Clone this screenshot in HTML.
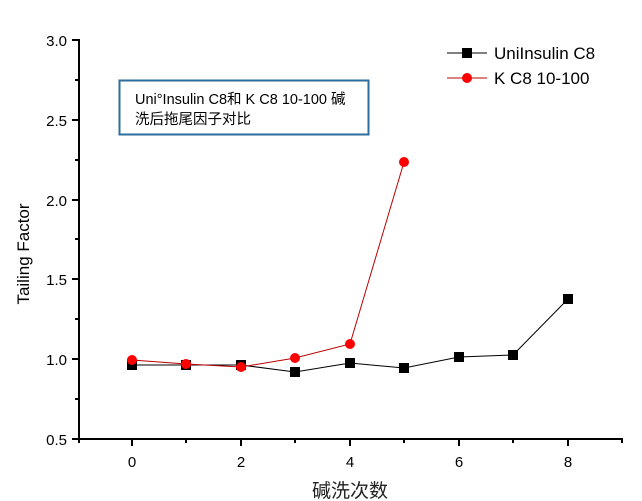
<!DOCTYPE html><html><head><meta charset="utf-8"><style>body{margin:0;background:#fff}svg{display:block}text{font-family:"Liberation Sans","Noto Sans CJK SC",sans-serif}</style></head><body>
<svg width="642" height="501" viewBox="0 0 642 501">
<rect width="642" height="501" fill="#fff"/>
<g stroke="#000" stroke-width="2" fill="none">
<line x1="79" y1="39" x2="79" y2="440"/>
<line x1="78" y1="439" x2="623" y2="439"/>
<path d="M72 40H79M72 120H79M72 200H79M72 279H79M72 359H79M72 439H79M75 80H79M75 160H79M75 239H79M75 319H79M75 399H79"/>
<path d="M132 439V446M241 439V446M350 439V446M459 439V446M568 439V446M79 439V443M186 439V443M295 439V443M404 439V443M513 439V443M622 439V443"/>
</g>
<g font-size="15" fill="#000" text-anchor="end">
<text x="67" y="46">3.0</text><text x="67" y="126">2.5</text><text x="67" y="206">2.0</text><text x="67" y="285">1.5</text><text x="67" y="365">1.0</text><text x="67" y="445">0.5</text>
</g>
<g font-size="15" fill="#000" text-anchor="middle">
<text x="132" y="467">0</text><text x="241" y="467">2</text><text x="350" y="467">4</text><text x="459" y="467">6</text><text x="568" y="467">8</text>
</g>
<text x="350" y="497" font-size="19" text-anchor="middle" fill="#222">碱洗次数</text>
<text transform="translate(29,254) rotate(-90)" font-size="17" text-anchor="middle" fill="#000">Tailing Factor</text>
<rect x="119.5" y="80.5" width="249" height="54" fill="#fff" stroke="#2e6e9e" stroke-width="2"/>
<text x="135" y="104" font-size="14.5" fill="#000">Uni°Insulin C8和 K C8 10-100 碱</text>
<text x="135" y="124" font-size="14.5" fill="#000">洗后拖尾因子对比</text>
<polyline fill="none" stroke="#000" stroke-width="1" points="132,365 186,365 241,365 295,372 350,363 404,368 459,357 513,355 568,299"/>
<g fill="#000">
<rect x="127" y="360" width="10" height="10"/><rect x="181" y="360" width="10" height="10"/><rect x="236" y="360" width="10" height="10"/><rect x="290" y="367" width="10" height="10"/><rect x="345" y="358" width="10" height="10"/><rect x="399" y="363" width="10" height="10"/><rect x="454" y="352" width="10" height="10"/><rect x="508" y="350" width="10" height="10"/><rect x="563" y="294" width="10" height="10"/>
</g>
<polyline fill="none" stroke="#b00" stroke-width="1" points="132,360 186,364 241,367 295,358 350,344 404,162"/>
<g fill="#f00">
<circle cx="132" cy="360" r="5"/><circle cx="186" cy="364" r="5"/><circle cx="241" cy="367" r="5"/><circle cx="295" cy="358" r="5"/><circle cx="350" cy="344" r="5"/><circle cx="404" cy="162" r="5"/>
</g>
<line x1="447" y1="53" x2="487" y2="53" stroke="#000"/><rect x="462" y="48" width="10" height="10" fill="#000"/>
<text x="494" y="59" font-size="17" fill="#000">UniInsulin C8</text>
<line x1="447" y1="78" x2="487" y2="78" stroke="#b00"/><circle cx="467" cy="78" r="5" fill="#f00"/>
<text x="494" y="84" font-size="17" fill="#000">K C8 10-100</text>
</svg></body></html>
